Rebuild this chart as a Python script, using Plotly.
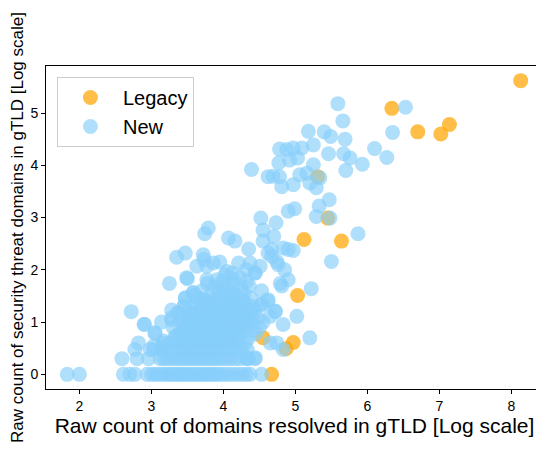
import plotly.graph_objects as go

# ---- Legacy gTLDs (log10 resolved domains, log10 threat domains)
legacy_x = [8.13, 6.34, 6.70, 7.02, 7.14, 5.31, 5.45, 5.12, 5.64, 5.03, 4.97, 4.87, 4.55, 4.67]
legacy_y = [5.62, 5.09, 4.64, 4.60, 4.78, 3.78, 2.99, 2.58, 2.55, 1.51, 0.61, 0.49, 0.70, 0.00]

# ---- New gTLDs: dense core, stored per threat-count level
core_levels = [0.0, 0.301, 0.477, 0.602, 0.699, 0.778, 0.845, 0.903, 0.954, 1.0,
               1.04, 1.08, 1.11, 1.15, 1.18, 1.2, 1.23, 1.26, 1.30, 1.34,
               1.38, 1.43, 1.46, 1.51, 1.56, 1.6, 1.64, 1.69, 1.74, 1.78,
               1.81, 1.85, 1.9, 1.94, 1.97, 2.0]
core_x = [
    [1.83, 2.0, 2.61, 2.70, 2.77, 2.94, 3.0, 3.05, 3.1, 3.15, 3.2, 3.24, 3.28, 3.32, 3.36, 3.4,
     3.44, 3.48, 3.52, 3.56, 3.6, 3.64, 3.68, 3.72, 3.76, 3.8, 3.84, 3.88, 3.92, 3.97, 4.02,
     4.08, 4.14, 4.2, 4.26, 4.32, 4.37, 4.53],
    [2.59, 2.80, 2.96, 3.12, 3.17, 3.22, 3.27, 3.33, 3.38, 3.43, 3.48, 3.53, 3.58, 3.63, 3.68,
     3.73, 3.78, 3.83, 3.88, 3.93, 3.98, 4.04, 4.1, 4.16, 4.23, 4.32, 4.35, 4.44],
    [2.77, 2.98, 3.03, 3.14, 3.22, 3.3, 3.36, 3.42, 3.48, 3.55, 3.6, 3.66, 3.72, 3.78, 3.84,
     3.9, 3.96, 4.03, 4.1, 4.17, 4.25, 4.33, 4.83],
    [2.82, 3.17, 3.26, 3.34, 3.42, 3.5, 3.57, 3.64, 3.7, 3.77, 3.83, 3.9, 3.97, 4.05, 4.12,
     4.2, 4.3, 4.65, 4.74],
    [3.33, 3.4, 3.48, 3.56, 3.63, 3.71, 3.79, 3.86, 3.94, 4.02, 4.1, 4.2, 4.35, 5.2],
    [3.05, 3.38, 3.47, 3.55, 3.62, 3.7, 3.78, 3.87, 3.95, 4.04, 4.13, 4.25, 4.45],
    [3.42, 3.52, 3.6, 3.68, 3.76, 3.85, 3.93, 4.0, 4.1, 4.2, 4.4],
    [3.3, 3.45, 3.55, 3.65, 3.74, 3.82, 3.9, 3.98, 4.08, 4.18, 4.3, 4.5],
    [2.90, 3.5, 3.62, 3.72, 3.8, 3.88, 3.97, 4.06, 4.16, 4.28, 4.83],
    [3.14, 3.48, 3.58, 3.68, 3.78, 3.86, 3.95, 4.05, 4.15, 4.25, 4.38, 4.55],
    [3.28, 3.55, 3.7, 3.82, 3.92, 4.02, 4.12, 4.22, 4.35],
    [3.40, 3.62, 3.75, 3.88, 3.98, 4.08, 4.2, 4.32, 4.48],
    [3.5, 3.66, 3.8, 3.92, 4.04, 4.16, 4.3, 4.65, 5.02],
    [3.58, 3.72, 3.85, 3.97, 4.1, 4.24, 4.4],
    [3.37, 3.64, 3.78, 3.9, 4.02, 4.14, 4.28],
    [2.72, 3.52, 3.82, 3.96, 4.08, 4.2, 4.36, 4.72],
    [3.28, 3.68, 3.86, 4.0, 4.12, 4.26, 4.44],
    [3.6, 3.75, 3.92, 4.05, 4.18, 4.32],
    [3.45, 3.7, 3.84, 3.98, 4.1, 4.24, 4.4],
    [3.62, 3.8, 4.06, 4.2, 4.53],
    [3.74, 3.9, 4.15, 4.3],
    [3.72, 3.86, 4.12, 4.26, 4.62],
    [3.47, 3.65, 3.96, 4.08, 4.38],
    [3.6, 3.92, 4.18],
    [3.58, 3.84, 4.12, 4.28],
    [3.7, 4.02, 4.53],
    [3.96, 4.24, 5.22],
    [3.88, 4.06, 4.36, 4.81],
    [3.25, 3.78, 4.14, 4.79],
    [3.98, 4.32],
    [3.77, 3.91, 4.14, 4.9],
    [3.49, 4.23],
    [4.02],
    [4.12, 4.44],
    [4.05],
    [4.85],
]

# ---- New gTLDs: points outside the dense core
outer_x = [5.59, 5.66, 6.53, 6.35, 5.18, 5.40, 5.49, 5.69, 5.25, 6.10, 6.27, 5.46, 5.67, 5.76,
           5.93, 5.70, 4.78, 4.88, 4.97, 5.09, 4.77, 4.92, 5.03, 4.78, 4.97, 4.81, 5.06, 5.16,
           5.25, 5.34, 5.29, 4.69, 5.20, 4.62, 4.39,
           5.47, 5.33, 4.99, 4.90, 5.29, 5.48, 4.73, 5.87, 4.70, 4.83, 4.97, 5.50, 4.52, 4.55,
           4.07, 4.16, 4.55, 4.67, 4.35, 4.62, 3.72, 3.95, 3.86, 3.77, 4.21, 4.37, 4.51, 4.44,
           4.76, 4.67, 4.74, 3.79, 3.74, 3.35, 3.47, 3.50, 3.63, 3.73, 4.90, 4.32,
           3.47, 3.58, 3.72, 3.37, 3.28, 3.45, 3.14, 2.90, 3.05, 3.17, 3.33, 3.03, 3.14, 4.44,
           4.32, 4.53, 4.62, 4.72]
outer_y = [5.18, 4.85, 5.11, 4.63, 4.65, 4.64, 4.55, 4.50, 4.39, 4.32, 4.15, 4.22, 4.22, 4.14,
           4.02, 3.90, 4.31, 4.30, 4.33, 4.33, 4.05, 4.10, 4.14, 3.78, 3.63, 3.59, 3.82, 3.85,
           4.01, 3.76, 3.57, 3.79, 3.66, 3.78, 3.92,
           3.34, 3.22, 3.17, 3.12, 3.02, 2.99, 2.90, 2.69, 2.64, 2.42, 2.37, 2.16, 2.99, 2.76,
           2.61, 2.55, 2.55, 2.39, 2.40, 2.32, 2.29, 2.15, 2.13, 2.07, 2.13, 2.13, 2.07, 1.94,
           2.10, 2.26, 2.16, 2.80, 2.69, 2.24, 2.32, 1.83, 2.07, 2.20, 2.39, 2.00,
           1.46, 1.56, 1.43, 1.18, 1.08, 1.30, 0.48, 0.96, 0.80, 0.64, 0.73, 0.54, 0.52, 0.32,
           0.32, 1.34, 1.40, 1.21]

new_x, new_y = [], []
for lvl, xs in zip(core_levels, core_x):
    new_x += xs
    new_y += [lvl] * len(xs)
new_x += outer_x
new_y += outer_y

FONT = "Arial, Liberation Sans, sans-serif"

fig = go.Figure()
fig.add_trace(go.Scatter(
    x=legacy_x, y=legacy_y, mode="markers", name="Legacy",
    marker=dict(size=15, color="#FFA500", opacity=0.72, line=dict(width=0)),
))
fig.add_trace(go.Scatter(
    x=new_x, y=new_y, mode="markers", name="New",
    marker=dict(size=15, color="#87CEFA", opacity=0.66, line=dict(width=0)),
))

axis_common = dict(
    showline=True, linecolor="black", linewidth=1, mirror=True,
    ticks="outside", ticklen=4, tickcolor="black", tickwidth=1,
    showgrid=False, zeroline=False, automargin=False,
    tickfont=dict(family=FONT, size=14, color="black"),
)

# The page body has an 8px margin, so the figure is sized to fit the window.
fig.update_layout(
    width=536, height=447,
    margin=dict(l=38, r=1, t=58, b=66),
    paper_bgcolor="white", plot_bgcolor="white",
    font=dict(family=FONT, color="black"),
    xaxis=dict(range=[1.535, 8.44], dtick=1, tick0=0,
               title=dict(text="Raw count of domains resolved in gTLD [Log scale]",
                          font=dict(family=FONT, size=21), standoff=3),
               **axis_common),
    yaxis=dict(range=[-0.28, 5.9], dtick=1, tick0=0,
               title=dict(text="Raw count of security threat domains in gTLD [Log scale]",
                          font=dict(family=FONT, size=17), standoff=8),
               **axis_common),
    legend=dict(x=0.022, y=0.966, xanchor="left", yanchor="top",
                bordercolor="#cccccc", borderwidth=1, bgcolor="white",
                font=dict(family=FONT, size=20), itemwidth=55),
    showlegend=True,
)

fig.write_html("out.html")
